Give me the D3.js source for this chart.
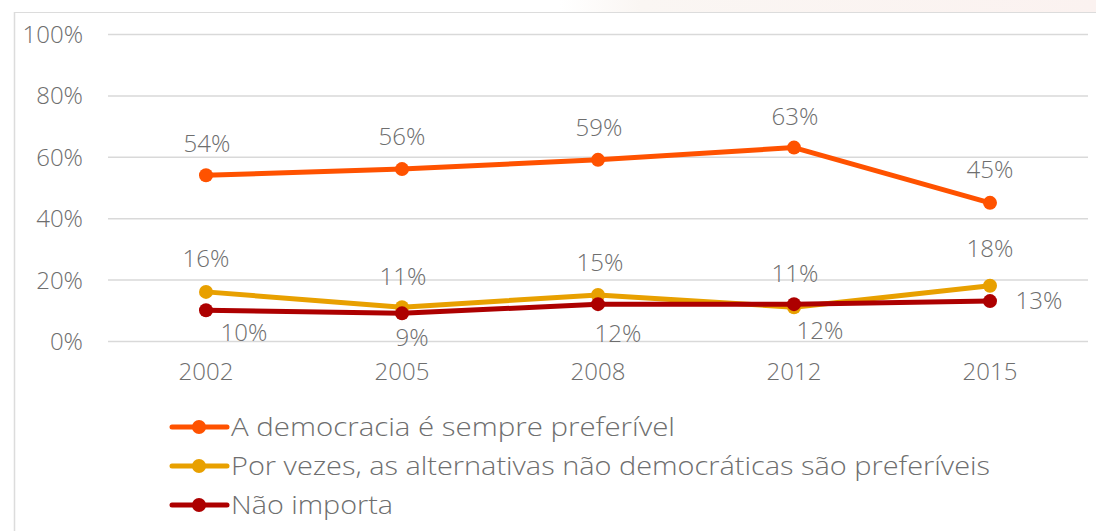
<!DOCTYPE html>
<html>
<head>
<meta charset="utf-8">
<script src="https://cdn.jsdelivr.net/npm/d3@7"></script>
<style>
html,body{margin:0;padding:0;background:#fff;}
svg{display:block;}
text{font-family:"Open Sans","Noto Sans",sans-serif;font-weight:300;fill:#6e6e6e;}
</style>
</head>
<body>
<svg id="chart" width="1096" height="531"></svg>
<script>
const years = ["2002","2005","2008","2012","2015"];
const yTicks = [0,20,40,60,80,100];
const seriesNames = [
  "A democracia é sempre preferível",
  "Por vezes, as alternativas não democráticas são preferíveis",
  "Não importa"
];
const democracia = [54,56,59,63,45];
const alternativas = [16,11,15,11,18];
const naoImporta = [10,9,12,12,13];
const colors = ["#FF5200","#E8A000","#AD0000"];
// label offsets (dx, dy) relative to each point
const labelOffsets = [
  [[1,-32],[0,-32],[1,-32],[1,-31],[0,-33]],
  [[0,-33],[1,-31],[2,-32],[1,-34],[0,-37]],
  [[38,22],[10,24],[20,29],[26,26],[49,0]]
];
// legend text target widths (px)
const legendWidths = [444, 759, 162];

const series = [democracia, alternativas, naoImporta].map((vals,i)=>({
  name: seriesNames[i], color: colors[i], values: vals, offsets: labelOffsets[i]
}));

const svg = d3.select("#chart");

const grad = svg.append("defs").append("linearGradient").attr("id","wm").attr("x1","0").attr("x2","1");
grad.append("stop").attr("offset","0").attr("stop-color","#ffffff");
grad.append("stop").attr("offset","0.15").attr("stop-color","#faf6f3");
grad.append("stop").attr("offset","1").attr("stop-color","#fbf2f0");
svg.append("rect").attr("x",560).attr("y",0).attr("width",536).attr("height",12).attr("fill","url(#wm)");

svg.append("line").attr("x1",14.5).attr("x2",14.5).attr("y1",12).attr("y2",531)
  .attr("stroke","#dcdcdc").attr("stroke-width",1.5);
svg.append("line").attr("x1",14).attr("x2",1096).attr("y1",12.5).attr("y2",12.5)
  .attr("stroke","#dcdcdc").attr("stroke-width",1.2);

const x = d3.scaleBand().domain(years).range([108,1088]);
const y = d3.scaleLinear().domain([0,100]).range([341,34]);
const cx = d => x(d) + x.bandwidth()/2;

const yAxis = d3.axisLeft(y).tickValues(yTicks).tickFormat(d=>d+"%").tickSize(-(1088-108)).tickPadding(25);
const gy = svg.append("g").attr("transform","translate(108,0)").call(yAxis);
gy.select(".domain").remove();
gy.selectAll(".tick line").attr("stroke","#d9d9d9").attr("stroke-width",1.5);
gy.selectAll(".tick text").attr("font-size",24).attr("fill",null).attr("dy","0.35em");

const xAxis = d3.axisBottom(x).tickSize(0).tickPadding(22);
const gx = svg.append("g").attr("transform","translate(0,341)").call(xAxis);
gx.select(".domain").remove();
gx.selectAll(".tick text").attr("font-size",24).attr("fill",null);
svg.selectAll("g").attr("font-family",null);

const line = d3.line().x((d,i)=>cx(years[i])).y(d=>y(d));

series.forEach(s=>{
  const g = svg.append("g");
  g.append("path").datum(s.values).attr("d",line).attr("fill","none")
    .attr("stroke",s.color).attr("stroke-width",5).attr("stroke-linejoin","round");
  g.selectAll("circle").data(s.values).join("circle")
    .attr("cx",(d,i)=>cx(years[i])).attr("cy",d=>y(d)).attr("r",7).attr("fill",s.color);
});

series.forEach(s=>{
  svg.append("g").selectAll("text").data(s.values).join("text")
    .attr("x",(d,i)=>cx(years[i])+s.offsets[i][0])
    .attr("y",(d,i)=>y(d)+s.offsets[i][1])
    .attr("dy","0.35em").attr("text-anchor","middle").attr("font-size",24)
    .text(d=>d+"%");
});

const lg = svg.append("g");
series.forEach((s,i)=>{
  const ly = 427 + i*39;
  lg.append("line").attr("x1",172).attr("x2",227).attr("y1",ly).attr("y2",ly)
    .attr("stroke",s.color).attr("stroke-width",5).attr("stroke-linecap","round");
  lg.append("circle").attr("cx",199).attr("cy",ly).attr("r",7).attr("fill",s.color);
  lg.append("text").attr("x",231).attr("y",ly).attr("dy","0.35em").attr("font-size",25)
    .attr("textLength",legendWidths[i]).attr("lengthAdjust","spacingAndGlyphs").text(s.name);
});
</script>
</body>
</html>
